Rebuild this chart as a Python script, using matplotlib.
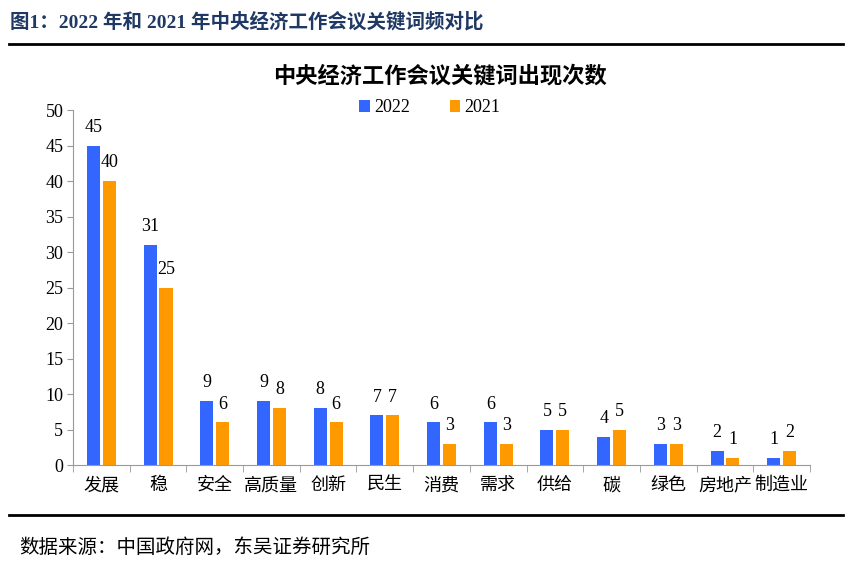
import matplotlib
matplotlib.use('Agg')
import matplotlib.pyplot as plt
import numpy as np

plt.rcParams['font.family'] = ['Liberation Serif', 'Noto Sans CJK SC', 'DejaVu Sans']

# %% data
categories = ['发展', '稳', '安全', '高质量', '创新', '民生', '消费', '需求', '供给', '碳', '绿色', '房地产', '制造业']
counts_2022 = [45, 31, 9, 9, 8, 7, 6, 6, 5, 4, 3, 2, 1]
counts_2021 = [40, 25, 6, 8, 6, 7, 3, 3, 5, 5, 3, 1, 2]
yticks = [0, 5, 10, 15, 20, 25, 30, 35, 40, 45, 50]

c_2022 = '#3366FF'
c_2021 = '#FF9900'
cjk = ['Noto Sans CJK SC', 'DejaVu Sans']

# %% plot
fig = plt.figure(figsize=(8.53, 5.76), dpi=100)
ax = fig.add_axes([0.0856, 0.1927, 0.864, 0.6163])

x = np.arange(len(categories))
w = 0.23
gap = 0.05
b1 = ax.bar(x - (w + gap) / 2, counts_2022, width=w, color=c_2022, label='2022')
b2 = ax.bar(x + (w + gap) / 2, counts_2021, width=w, color=c_2021, label='2021')

for bars in (b1, b2):
    for bar in bars:
        h = bar.get_height()
        ax.annotate(f'{int(h)}', (bar.get_x() + bar.get_width() / 2, h),
                    xytext=(0, 7), textcoords='offset points',
                    ha='center', va='bottom', fontsize=13)

ax.set_xlim(-0.5, len(categories) - 0.5)
ax.set_ylim(0, 50)
ax.set_yticks(yticks)
ax.tick_params(axis='y', labelsize=13, length=4, color='#999999', pad=3)
ax.set_xticks(x)
ax.set_xticklabels(categories, fontsize=13, family=cjk)
ax.tick_params(axis='x', length=0, pad=8)
# category boundary ticks
ax.set_xticks(np.arange(-0.5, len(categories), 1), minor=True)
ax.tick_params(axis='x', which='minor', length=5, color='#999999')

for s in ['top', 'right']:
    ax.spines[s].set_visible(False)
for s in ['left', 'bottom']:
    ax.spines[s].set_color('#999999')

leg = ax.legend(loc='center', bbox_to_anchor=(0.484, 1.006), ncol=2, frameon=False,
                fontsize=13, handlelength=0.6, handleheight=0.6, handletextpad=0.2,
                columnspacing=2.2)

fig.text(0.516, 0.869, '中央经济工作会议关键词出现次数', ha='center', va='center',
         fontsize=16, fontweight='bold', family=cjk)

# header and footer
fig.text(0.012, 0.963, '图1：2022 年和 2021 年中央经济工作会议关键词频对比', ha='left', va='center',
         fontsize=14, fontweight='bold', color='#1F3864',
         family=['Liberation Serif', 'Noto Sans CJK SC', 'DejaVu Sans'])
fig.add_artist(plt.Line2D([0.01, 0.988], [0.923, 0.923], color='black', lw=2))
fig.add_artist(plt.Line2D([0.01, 0.988], [0.106, 0.106], color='black', lw=2))
fig.text(0.022, 0.049, '数据来源：中国政府网，东吴证券研究所', ha='left', va='center',
         fontsize=14, family=cjk)

fig.savefig('out.png', dpi=100)
